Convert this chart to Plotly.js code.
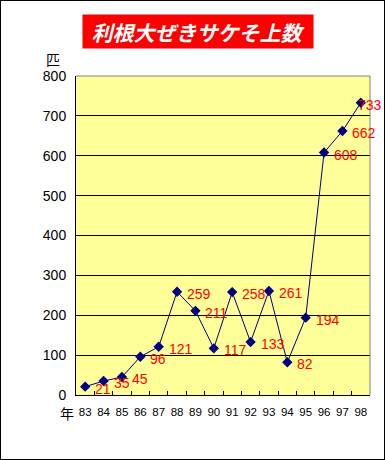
<!DOCTYPE html>
<html><head><meta charset="utf-8">
<script src="https://cdn.plot.ly/plotly-3.0.1.min.js"></script>
<style>
html,body{margin:0;padding:0;background:#fff;}
#chart{width:383px;height:458px;border:1px solid #000;}
</style></head>
<body><div id="chart"></div>
<script>
const years = ['83','84','85','86','87','88','89','90','91','92','93','94','95','96','97','98'];
const counts = [21,35,45,96,121,259,211,117,258,133,261,82,194,608,662,733];
const titleText = '利根大ぜきサケそ上数';
const yUnit = '匹';
const xUnit = '年';

const labelAnns = years.map((y,i)=>({
  x: i, y: counts[i], xref:'x', yref:'y', text: String(counts[i]),
  showarrow:false, xanchor:'left', yanchor:'middle',
  xshift: i === years.length-1 ? -5 : 8, yshift: -2,
  font:{family:'Liberation Sans, Arial, sans-serif', size:14, color:'#ff0000'}
}));

const data = [{
  x: years, y: counts, type:'scatter', mode:'lines+markers',
  line:{color:'#000080', width:1},
  marker:{symbol:'diamond', size:8, color:'#000080'},
  hoverinfo:'x+y', cliponaxis:false
}];

const layout = {
  width:383, height:458,
  margin:{l:75, r:14, t:75, b:64},
  paper_bgcolor:'#ffffff', plot_bgcolor:'#ffff99',
  showlegend:false,
  xaxis:{type:'category', range:[-0.5,15.5], showgrid:false, zeroline:false,
    showline:true, linecolor:'#000', linewidth:1,
    ticks:'inside', tickson:'boundaries', ticklen:4, tickcolor:'#000',
    tickangle:0, ticklabelstandoff:6,
    tickfont:{family:'Liberation Sans, Arial, sans-serif', size:11.5, color:'#000'},
    fixedrange:true},
  yaxis:{range:[0,800], dtick:100, tick0:0, showgrid:true, gridcolor:'#000', gridwidth:1,
    zeroline:false, showline:true, linecolor:'#000', linewidth:1, ticks:'',
    ticklabelstandoff:6,
    tickfont:{family:'Liberation Sans, Arial, sans-serif', size:14, color:'#000'},
    fixedrange:true},
  shapes:[
    {type:'line', xref:'paper', yref:'paper', x0:0, x1:1, y0:1, y1:1, line:{color:'#808080', width:1}},
    {type:'line', xref:'paper', yref:'paper', x0:1, x1:1, y0:0, y1:1, line:{color:'#808080', width:1}}
  ],
  annotations:[
    {xref:'paper', yref:'paper', x:0.415, y:1, yshift:45, xanchor:'center', yanchor:'middle',
     text:'<b><i>'+titleText+'</i></b>', showarrow:false, bgcolor:'#ff0000',
     width:230, height:33, borderpad:0,
     font:{family:'Noto Sans CJK JP, sans-serif', size:21, color:'#ffffff'}},
    {xref:'paper', yref:'paper', x:0, y:1, xshift:-23, yshift:17, xanchor:'center', yanchor:'middle',
     text:yUnit, showarrow:false,
     font:{family:'Noto Sans CJK JP, sans-serif', size:14, color:'#000'}},
    {xref:'paper', yref:'paper', x:0, y:0, xshift:-9, yshift:-18, xanchor:'center', yanchor:'middle',
     text:xUnit, showarrow:false,
     font:{family:'Noto Sans CJK JP, sans-serif', size:14, color:'#000'}},
    ...labelAnns
  ]
};
Plotly.newPlot('chart', data, layout, {displayModeBar:false, staticPlot:true});
</script></body></html>
